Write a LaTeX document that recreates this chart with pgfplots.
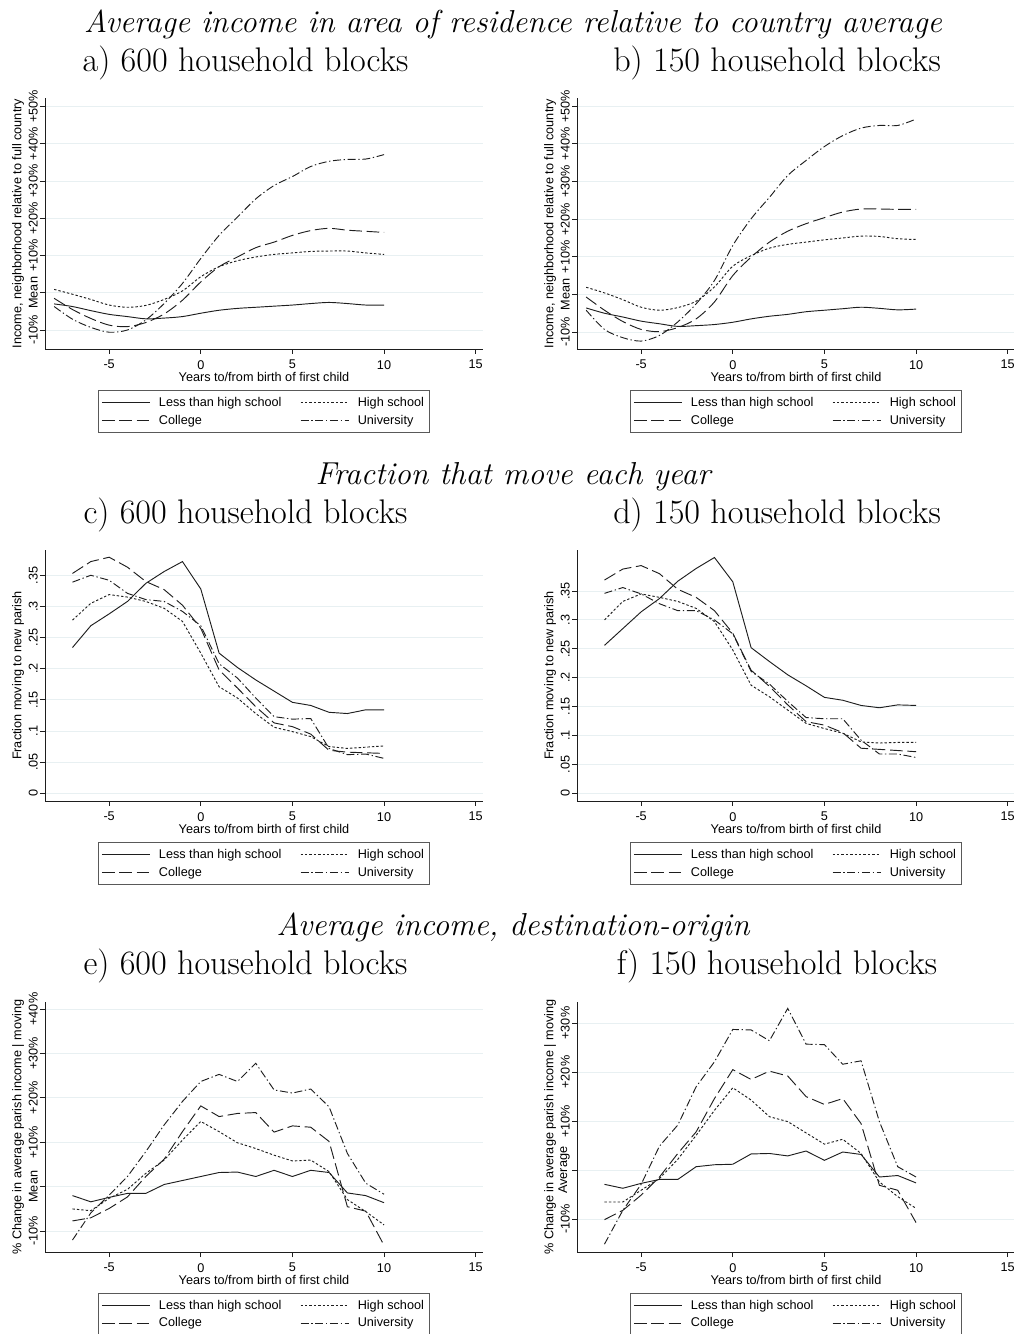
\documentclass[border=0pt]{standalone}
\usepackage{fontspec}
\usepackage{pgfplots}
\usepackage{pgfplotstable}
\pgfplotsset{compat=1.18}

\newfontfamily\axfam{Liberation Sans}
\newcommand\axfont{\axfam\fontsize{9.5}{11.4}\selectfont}
\newcommand\secfont{\fontsize{23.8}{28}\selectfont\itshape}
\newcommand\panfont{\fontsize{25.6}{30}\selectfont}

\definecolor{gridc}{RGB}{232,240,242}
\definecolor{ink}{RGB}{30,30,30}

% columns: year, less than high school, high school, college, university
\pgfplotstableread{
x   lths  hs    col   uni
-8  -3.0  0.9  -1.5  -3.7
-7  -3.7 -0.4  -4.5  -7.1
-6  -4.8 -1.8  -6.9  -9.3
-5  -5.8 -3.3  -8.7 -10.6
-4  -6.4 -3.9  -9.1 -10.0
-3  -7.0 -3.4  -8.0  -7.3
-2  -6.8 -1.8  -5.7  -2.9
-1  -6.4  0.5  -2.0   2.5
0   -5.5  4.3   2.9   9.2
1   -4.7  7.0   7.0  15.4
2   -4.2  8.6   9.6  20.3
3   -3.9  9.6  12.1  25.2
4   -3.6 10.3  13.6  28.8
5   -3.3 10.7  15.4  31.2
6   -2.9 11.1  16.7  33.9
7   -2.6 11.2  17.3  35.3
8   -2.9 11.2  16.8  35.8
9   -3.3 10.7  16.5  35.9
10  -3.3 10.3  16.2  37.1
}\tabA

\pgfplotstableread{
x   lths  hs    col   uni
-8  -3.6  1.9  -0.7  -4.2
-7  -5.0  0.4  -4.2  -9.3
-6  -6.0 -1.4  -7.2 -11.5
-5  -7.1 -3.4  -9.3 -12.4
-4  -7.8 -4.2  -9.9 -10.9
-3  -8.5 -3.5  -8.8  -7.3
-2  -8.3 -1.8  -6.5  -2.5
-1  -8.0  2.0  -2.0   3.7
0   -7.4  7.5   5.0  13.0
1   -6.5 10.3   9.9  20.1
2   -5.8 12.3  13.9  25.8
3   -5.3 13.3  16.8  31.6
4   -4.6 13.9  18.8  35.6
5   -4.2 14.5  20.4  39.3
6   -3.8 15.0  21.9  42.2
7   -3.4 15.5  22.7  44.2
8   -3.7 15.4  22.7  44.9
9   -4.1 14.8  22.6  44.9
10  -3.9 14.6  22.6  46.6
}\tabB

\pgfplotstableread{
x   lths   hs     col    uni
-7  0.234  0.278  0.353  0.339
-6  0.269  0.305  0.372  0.350
-5  0.288  0.319  0.379  0.342
-4  0.308  0.315  0.363  0.321
-3  0.337  0.308  0.340  0.311
-2  0.356  0.297  0.327  0.308
-1  0.372  0.276  0.302  0.292
0   0.328  0.225  0.265  0.269
1   0.225  0.171  0.198  0.208
2   0.202  0.153  0.169  0.185
3   0.182  0.128  0.139  0.153
4   0.164  0.106  0.113  0.123
5   0.146  0.099  0.107  0.119
6   0.141  0.091  0.095  0.120
7   0.130  0.075  0.069  0.072
8   0.128  0.072  0.066  0.062
9   0.134  0.074  0.065  0.063
10  0.134  0.076  0.064  0.056
}\tabC

\pgfplotstableread{
x   lths   hs     col    uni
-7  0.256  0.300  0.369  0.346
-6  0.285  0.332  0.388  0.356
-5  0.314  0.345  0.394  0.345
-4  0.337  0.339  0.380  0.328
-3  0.367  0.332  0.353  0.316
-2  0.389  0.320  0.339  0.316
-1  0.408  0.297  0.316  0.300
0   0.366  0.248  0.277  0.276
1   0.252  0.187  0.213  0.211
2   0.228  0.167  0.185  0.189
3   0.205  0.144  0.153  0.159
4   0.186  0.121  0.124  0.131
5   0.166  0.112  0.118  0.129
6   0.161  0.104  0.105  0.129
7   0.152  0.089  0.078  0.092
8   0.148  0.087  0.076  0.068
9   0.153  0.088  0.074  0.068
10  0.152  0.088  0.072  0.062
}\tabD

\pgfplotstableread{
x   lths  hs    col    uni
-7  -2.0 -5.0  -7.7  -12.0
-6  -3.4 -5.4  -7.0   -5.9
-5  -2.4 -2.6  -4.9   -1.9
-4  -1.5 -0.6  -2.3    2.3
-3  -1.5  3.0   2.3    7.9
-2   0.5  6.0   6.2   13.9
-1   1.4 10.5  12.4   19.2
0    2.3 14.7  18.2   23.7
1    3.2 12.4  15.8   25.3
2    3.3  9.9  16.5   23.7
3    2.3  8.6  16.7   27.8
4    3.7  7.1  12.3   21.8
5    2.3  5.8  13.7   21.1
6    3.7  6.0  13.4   22.0
7    3.2  3.4  10.2   18.0
8   -1.4 -2.9  -4.5    7.5
9   -2.0 -5.6  -5.5    0.8
10  -3.6 -8.6 -13.2   -1.7
}\tabE

\pgfplotstableread{
x   lths  hs    col    uni
-7  -2.9 -6.5 -10.1  -15.1
-6  -3.7 -6.5  -8.2   -8.2
-5  -2.7 -4.1  -5.1   -2.9
-4  -1.9 -1.7  -1.4    4.9
-3  -1.9  2.2   3.4    9.2
-2   0.7  7.1   7.8   17.0
-1   1.1 12.2  14.6   22.1
0    1.2 16.8  20.5   28.7
1    3.3 14.3  18.5   28.6
2    3.4 10.9  20.2   26.4
3    2.9  9.9  19.2   33.0
4    3.9  7.6  15.0   25.7
5    2.0  5.3  13.4   25.6
6    3.7  6.3  14.6   21.6
7    3.2  3.4   9.5   22.3
8   -1.4 -2.4  -3.1    9.9
9   -1.1 -5.4  -4.1    0.7
10  -2.6 -7.8 -10.7   -1.4
}\tabF

\pgfplotsset{
  panel/.style={
    scale only axis, width=328.5pt, height=188.25pt,
    axis lines=left,
    axis line style={-, line width=0.7pt, color=ink},
    xmin=-8.5, xmax=15.4, xtick={-5,0,5,10,15},
    tick align=outside, major tick length=3.75pt,
    tick style={line width=0.7pt, color=ink},
    ymajorgrids, grid style={color=gridc, line width=0.7pt},
    every tick label/.append style={font=\axfont},
    /pgf/number format/assume math mode=true,
    yticklabel style={rotate=90, anchor=south, inner sep=1.5pt},
    xticklabel style={inner ysep=4.5pt},
    xlabel={Years to/from birth of first child},
    every axis x label/.style={at={(axis description cs:0.5,-0.1116)}, anchor=center, font=\axfont},
    every axis y label/.style={at={(axis description cs:-0.0616,0.5)}, rotate=90, anchor=center, font=\axfont},
    legend columns=2, legend cell align=left,
    legend style={at={(axis description cs:0.5,-0.1633)}, anchor=north,
      draw=black!65, line width=0.6pt, font=\axfont,
      inner xsep=2pt, inner ysep=3pt, row sep=1pt,
      /tikz/every odd column/.append style={column sep=4.5pt},
      /tikz/every even column/.append style={column sep=12pt}},
    legend image code/.code={\draw[##1] (0pt,0pt) -- (36pt,0pt);},
  },
  lths/.style={color=ink, line width=0.7pt},
  hs/.style={color=ink, line width=0.7pt, dash pattern=on 1.8pt off 1.5pt},
  col/.style={color=ink, line width=0.7pt, dash pattern=on 9.5pt off 3.5pt},
  uni/.style={color=ink, line width=0.7pt, dash pattern=on 6pt off 2pt on 1pt off 2pt},
}

\newcommand\fourplots[2][]{%
  \addplot[lths,#1] table[x=x,y=lths]{#2};
  \addplot[hs,#1] table[x=x,y=hs]{#2};
  \addplot[col,#1] table[x=x,y=col]{#2};
  \addplot[uni,#1] table[x=x,y=uni]{#2};
  \legend{Less than high school, High school, College, University}
}

\begin{document}
\begin{tikzpicture}
\path[use as bounding box] (0,0) rectangle (759.75pt,1000.5pt);

% row 1
\begin{axis}[panel, at={(33.75pt,738.75pt)}, anchor=south west,
  ymin=-15.1, ymax=52.3, ytick={-10,0,10,20,30,40,50},
  yticklabels={-10\%,Mean,+10\%,+20\%,+30\%,+40\%,+50\%},
  ylabel={Income, neighborhood relative to full country}]
  \fourplots[smooth, tension=0.5]{\tabA}
\end{axis}
\begin{axis}[panel, at={(432.75pt,738.75pt)}, anchor=south west,
  ymin=-14.5, ymax=52.2, ytick={-10,0,10,20,30,40,50},
  yticklabels={-10\%,Mean,+10\%,+20\%,+30\%,+40\%,+50\%},
  ylabel={Income, neighborhood relative to full country}]
  \fourplots[smooth, tension=0.5]{\tabB}
\end{axis}

% row 2
\begin{axis}[panel, at={(33.75pt,399.75pt)}, anchor=south west,
  ymin=-0.0124, ymax=0.3906, ytick={0,0.05,0.1,0.15,0.2,0.25,0.3,0.35},
  yticklabels={0,.05,.1,.15,.2,.25,.3,.35},
  ylabel={Fraction moving to new parish}]
  \fourplots{\tabC}
\end{axis}
\begin{axis}[panel, at={(432.75pt,399.75pt)}, anchor=south west,
  ymin=-0.0133, ymax=0.421, ytick={0,0.05,0.1,0.15,0.2,0.25,0.3,0.35},
  yticklabels={0,.05,.1,.15,.2,.25,.3,.35},
  ylabel={Fraction moving to new parish}]
  \fourplots{\tabD}
\end{axis}

% row 3
\begin{axis}[panel, at={(33.75pt,61.5pt)}, anchor=south west, height=187.5pt,
  ymin=-14.7, ymax=41.6, ytick={-10,0,10,20,30,40},
  yticklabels={-10\%,Mean,+10\%,+20\%,+30\%,+40\%},
  ylabel={\% Change in average parish income | moving}]
  \fourplots{\tabE}
\end{axis}
\begin{axis}[panel, at={(432.75pt,61.5pt)}, anchor=south west, height=187.5pt,
  ymin=-16.7, ymax=34.3, ytick={-10,0,10,20,30},
  yticklabels={-10\%,Average,+10\%,+20\%,+30\%},
  ylabel={\% Change in average parish income | moving}]
  \fourplots{\tabF}
\end{axis}

% titles, positions in reference pixels
\begin{scope}[x=0.75pt, y=0.75pt]
  \node[anchor=base, font=\secfont, inner sep=0pt] at (513,{1334-33}) {Average income in area of residence relative to country average};
  \node[anchor=base, font=\panfont, inner sep=0pt] at (245.5,{1334-72}) {a) 600 household blocks};
  \node[anchor=base, font=\panfont, inner sep=0pt] at (777,{1334-72}) {b) 150 household blocks};
  \node[anchor=base, font=\secfont, inner sep=0pt] at (513,{1334-485}) {Fraction that move each year};
  \node[anchor=base, font=\panfont, inner sep=0pt] at (245.5,{1334-524}) {c) 600 household blocks};
  \node[anchor=base, font=\panfont, inner sep=0pt] at (777,{1334-524}) {d) 150 household blocks};
  \node[anchor=base, font=\secfont, inner sep=0pt] at (513,{1334-936}) {Average income, destination-origin};
  \node[anchor=base, font=\panfont, inner sep=0pt] at (245.5,{1334-975}) {e) 600 household blocks};
  \node[anchor=base, font=\panfont, inner sep=0pt] at (777,{1334-975}) {f) 150 household blocks};
\end{scope}
\end{tikzpicture}
\end{document}
